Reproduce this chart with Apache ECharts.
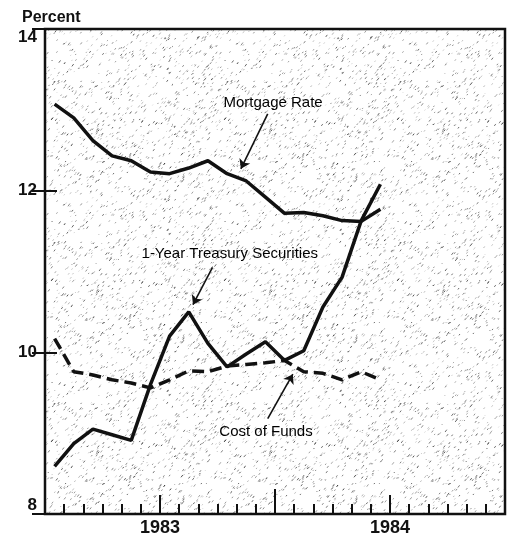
<!DOCTYPE html>
<html>
<head>
<meta charset="utf-8">
<title>Mortgage Rate, 1-Year Treasury Securities, Cost of Funds</title>
<script src="https://cdn.jsdelivr.net/npm/echarts@6/dist/echarts.min.js"></script>
<style>
html, body { margin: 0; padding: 0; background: #fff; }
#chart { width: 510px; height: 538px; }
</style>
</head>
<body>
<div id="chart"></div>
<script>
// monthly data, one slot per month on the time axis (slot 0 = first month)
var months = ['Jan 1983', 'Feb 1983', 'Mar 1983', 'Apr 1983', 'May 1983', 'Jun 1983',
              'Jul 1983', 'Aug 1983', 'Sep 1983', 'Oct 1983', 'Nov 1983', 'Dec 1983',
              'Jan 1984', 'Feb 1984', 'Mar 1984', 'Apr 1984', 'May 1984', 'Jun 1984'];
var mortgageRate = [13.07, 12.90, 12.62, 12.43, 12.37, 12.23, 12.21, 12.28, 12.37,
                    12.21, 12.12, 11.92, 11.72, 11.73, 11.69, 11.63, 11.62, 11.77];
var treasury1yr  = [8.59, 8.87, 9.05, 8.98, 8.91, 9.60, 10.20, 10.50, 10.11,
                    9.82, 9.98, 10.13, 9.90, 10.02, 10.56, 10.93, 11.63, 12.08];
var costOfFunds  = [10.17, 9.76, 9.72, 9.66, 9.62, 9.56, 9.66, 9.77, 9.76,
                    9.83, 9.85, 9.87, 9.90, 9.76, 9.74, 9.66, 9.76, 9.66];
var yearLabels = ['1983', '1984'];
var yearSlots  = [6, 18];

var INK = '#111';
var FONT = '"Liberation Sans", Arial, Helvetica, sans-serif';

// stippled paper texture for the plot area (fixed seed so it is the same every time)
function stipple() {
  var c = document.createElement('canvas');
  c.width = 173; c.height = 161;
  var g = c.getContext('2d');
  g.fillStyle = '#fff';
  g.fillRect(0, 0, c.width, c.height);
  var s = 987654321;
  function rnd() {
    s |= 0; s = s + 0x6D2B79F5 | 0;
    var t = Math.imul(s ^ s >>> 15, 1 | s);
    t = t + Math.imul(t ^ t >>> 7, 61 | t) ^ t;
    return ((t ^ t >>> 14) >>> 0) / 4294967296;
  }
  for (var i = 0; i < 1000; i++) {
    var x = rnd() * c.width, y = rnd() * c.height;
    var a = 0.2 + rnd() * 0.5;
    g.strokeStyle = 'rgba(0,0,0,' + a.toFixed(2) + ')';
    g.lineWidth = 0.9;
    var len = 0.8 + rnd() * 2.2;
    g.beginPath();
    g.moveTo(x, y);
    g.lineTo(x + len * 0.6, y - len * 0.8);
    g.stroke();
  }
  return c;
}

function pts(arr) {
  return arr.map(function (v, i) { return [i + 0.5, v]; });
}

function arrow(from, to) {
  return {
    silent: true,
    symbol: ['none', 'arrow'],
    symbolSize: 9,
    lineStyle: { color: INK, width: 1.6, type: 'solid' },
    label: { show: false },
    emphasis: { disabled: true },
    data: [[{ coord: from }, { coord: to }]]
  };
}

var chart = echarts.init(document.getElementById('chart'));

var tickX = function (interval, len) {
  return {
    type: 'value', min: 0, max: 24, interval: interval, position: 'bottom',
    axisLine: { show: false },
    axisTick: { show: true, inside: true, length: len, lineStyle: { color: INK, width: 2 } },
    axisLabel: { show: false },
    splitLine: { show: false }
  };
};

var xMain = tickX(1, 10);
xMain.axisLabel = {
  show: true, margin: 5, color: INK, fontFamily: FONT, fontWeight: 'bold', fontSize: 18,
  showMinLabel: true, showMaxLabel: true,
  formatter: function (v) {
    var k = yearSlots.indexOf(Math.round(v));
    return k >= 0 ? yearLabels[k] : '';
  }
};

chart.setOption({
  animation: false,
  backgroundColor: '#fff',
  grid: {
    left: 45, top: 29, right: 5, bottom: 24,
    show: true,
    backgroundColor: { image: stipple(), repeat: 'repeat' },
    borderColor: INK, borderWidth: 2.5
  },
  title: {
    text: 'Percent', left: 17, top: 5,
    textStyle: { color: INK, fontFamily: FONT, fontWeight: 'bold', fontSize: 16 }
  },
  xAxis: [xMain, tickX(6, 19), tickX(12, 25)],
  yAxis: [{
    type: 'value', min: 8, max: 14, interval: 2,
    axisLine: { show: false },
    axisTick: { show: true, inside: true, length: 12, lineStyle: { color: INK, width: 2 } },
    axisLabel: {
      color: INK, fontFamily: FONT, fontWeight: 'bold', fontSize: 17, margin: 8,
      verticalAlignMaxLabel: 'top', verticalAlignMinLabel: 'bottom'
    },
    splitLine: { show: false }
  }, {
    type: 'value', min: 8, max: 14, interval: 2, position: 'right',
    axisLine: { show: false },
    axisTick: { show: true, inside: true, length: 13, lineStyle: { color: INK, width: 2 } },
    axisLabel: { show: false },
    splitLine: { show: false }
  }],
  series: [{
    name: 'Mortgage Rate', type: 'line', data: pts(mortgageRate),
    showSymbol: false, lineStyle: { color: INK, width: 3.5 },
    markLine: arrow([11.62, 12.95], [10.22, 12.27])
  }, {
    name: '1-Year Treasury Securities', type: 'line', data: pts(treasury1yr),
    showSymbol: false, lineStyle: { color: INK, width: 3.5 },
    markLine: arrow([8.74, 11.05], [7.72, 10.59])
  }, {
    name: 'Cost of Funds', type: 'line', data: pts(costOfFunds),
    showSymbol: false, lineStyle: { color: INK, width: 3.5, type: [12, 6] },
    markLine: arrow([11.62, 9.18], [12.93, 9.73])
  }]
});

// series name labels, placed in data space
var notes = [
  { text: 'Mortgage Rate', at: [11.9, 13.09] },
  { text: '1-Year Treasury Securities', at: [9.64, 11.22] },
  { text: 'Cost of Funds', at: [11.53, 9.01] }
];
chart.setOption({
  graphic: notes.map(function (n) {
    var p = chart.convertToPixel({ gridIndex: 0 }, n.at);
    return {
      type: 'text', x: p[0], y: p[1], silent: true,
      style: {
        text: n.text, fill: '#000', font: '15px ' + FONT,
        textAlign: 'center', textVerticalAlign: 'middle'
      }
    };
  })
});
</script>
</body>
</html>
